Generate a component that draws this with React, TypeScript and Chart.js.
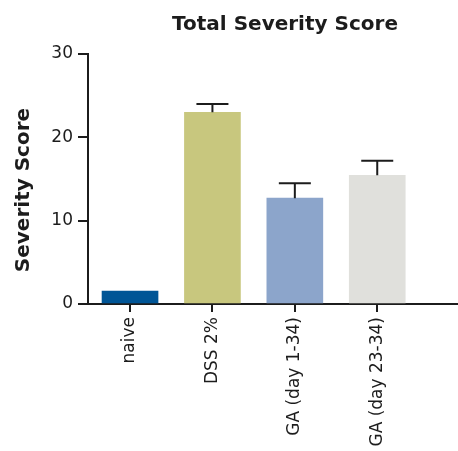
import React, { useEffect, useRef } from "react";
import { Chart, registerables } from "chart.js";
Chart.register(...registerables);

const TITLE = "Total Severity Score";
const Y_TITLE = "Severity Score";
const categories = ["naive", "DSS 2%", "GA (day 1-34)", "GA (day 23-34)"];
const means = [1.55, 23.0, 12.7, 15.45];
const errors = [0, 1.0, 1.8, 1.75];
const barColors = ["#005596", "#c8c77e", "#8ca5cb", "#e0e0dc"];
const yTicks = [0, 10, 20, 30];

const FONT = "'DejaVu Sans', sans-serif";
const INK = "#1c1c1c";

const errorBarPlugin = {
  id: "errorBars",
  afterDatasetsDraw(chart: any) {
    const { ctx, scales } = chart;
    const xs = scales.x;
    const ys = scales.y;
    ctx.save();
    ctx.strokeStyle = INK;
    ctx.lineWidth = 2;
    means.forEach((m, i) => {
      const e = errors[i];
      if (!e) return;
      const x = xs.getPixelForValue(i);
      const y0 = ys.getPixelForValue(m);
      const y1 = ys.getPixelForValue(m + e);
      ctx.beginPath();
      ctx.moveTo(x, y0);
      ctx.lineTo(x, y1);
      ctx.moveTo(x - 16, y1);
      ctx.lineTo(x + 16, y1);
      ctx.stroke();
    });
    ctx.restore();
  },
};

const titlesPlugin = {
  id: "customTitles",
  afterDraw(chart: any) {
    const { ctx } = chart;
    ctx.save();
    ctx.fillStyle = INK;
    ctx.textAlign = "center";
    ctx.textBaseline = "middle";
    ctx.font = `bold 20px ${FONT}`;
    ctx.fillText(TITLE, 285, 25);
    ctx.translate(24, 190);
    ctx.rotate(-Math.PI / 2);
    ctx.fillText(Y_TITLE, 0, 0);
    ctx.restore();
  },
};

export default function App() {
  const ref = useRef<HTMLCanvasElement>(null);
  useEffect(() => {
    if (!ref.current) return;
    const chart = new Chart(ref.current, {
      type: "bar",
      data: {
        datasets: [
          {
            data: means.map((v, i) => ({ x: i, y: v })),
            backgroundColor: barColors,
            borderWidth: 0,
            barThickness: 56,
          },
        ],
      },
      options: {
        responsive: false,
        animation: false,
        layout: { padding: { top: 54, right: 0, left: 0, bottom: 0 } },
        plugins: {
          legend: { display: false },
          title: { display: false },
          tooltip: { enabled: false },
        },
        scales: {
          x: {
            type: "linear",
            offset: false,
            min: -0.51,
            max: 3.98,
            afterFit: (s: any) => {
              s.height = 147;
            },
            ticks: {
              stepSize: 1,
              includeBounds: false,
              autoSkip: false,
              maxRotation: 90,
              minRotation: 90,
              padding: 5,
              color: INK,
              font: { family: FONT, size: 17 },
              callback: (v: any) => categories[v] ?? "",
            },
            grid: {
              display: true,
              offset: false,
              drawOnChartArea: false,
              drawTicks: true,
              tickLength: 8,
              color: INK,
              lineWidth: 2,
            },
            border: { display: true, color: INK, width: 2 },
          },
          y: {
            min: 0,
            max: 30,
            afterFit: (s: any) => {
              s.width = 88;
            },
            afterBuildTicks: (s: any) => {
              s.ticks = yTicks.map((v) => ({ value: v }));
            },
            ticks: {
              padding: 5,
              color: INK,
              font: { family: FONT, size: 17 },
            },
            grid: {
              display: true,
              drawOnChartArea: false,
              drawTicks: true,
              tickLength: 10,
              color: INK,
              lineWidth: 2,
            },
            border: { display: true, color: INK, width: 2 },
          },
        },
      },
      plugins: [errorBarPlugin, titlesPlugin],
    } as any);
    return () => chart.destroy();
  }, []);
  return (
    <div style={{ position: "absolute", left: 0, top: 0, width: 458, height: 451, background: "#fff" }}>
      <canvas ref={ref} width={458} height={451} />
    </div>
  );
}
